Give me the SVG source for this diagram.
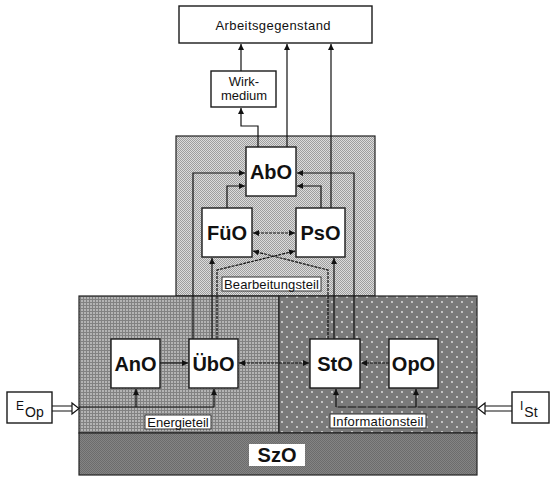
<svg xmlns="http://www.w3.org/2000/svg" width="551" height="477" viewBox="0 0 551 477">
<defs>
<style>
.box{fill:#fff;stroke:#1a1a1a;stroke-width:1.4}
.lbl{font-family:"Liberation Sans",Arial,sans-serif;font-weight:bold;font-size:20px;fill:#111;text-anchor:middle}
.txt{font-family:"Liberation Sans",Arial,sans-serif;font-size:13px;fill:#111;text-anchor:middle}
.tag{fill:#fff;stroke:#333;stroke-width:1}
.ln{fill:none;stroke:#111;stroke-width:1.2}
.dl{fill:none;stroke:#111;stroke-width:1.2;stroke-dasharray:3 1}
.panel{stroke:#222;stroke-width:1.2}
</style>
<pattern id="pB" width="2" height="2" patternUnits="userSpaceOnUse">
<rect width="2" height="2" fill="#dcdcdc"/>
<rect width="1" height="1" fill="#9e9e9e"/>
<rect x="1" y="1" width="1" height="1" fill="#9e9e9e"/>
</pattern>
<pattern id="pE" width="3" height="3" patternUnits="userSpaceOnUse">
<rect width="3" height="3" fill="#828282"/>
<rect width="2" height="2" fill="#b4b4b4"/>
</pattern>
<pattern id="pI" width="10" height="10" patternUnits="userSpaceOnUse">
<rect width="10" height="10" fill="#7a7a7a"/>
<circle cx="2" cy="2" r="0.9" fill="#e6e6e6"/>
<circle cx="7" cy="7" r="0.9" fill="#e6e6e6"/>
</pattern>
<pattern id="pS" width="2" height="2" patternUnits="userSpaceOnUse">
<rect width="2" height="2" fill="#848484"/>
<rect width="1" height="1" fill="#6c6c6c"/>
<rect x="1" y="1" width="1" height="1" fill="#6c6c6c"/>
</pattern>
<marker id="ar" viewBox="0 0 8 8" refX="8" refY="4" markerWidth="6" markerHeight="6" markerUnits="userSpaceOnUse" orient="auto-start-reverse">
<path d="M0,0 L8,4 L0,8 z" fill="#111"/>
</marker>
</defs>
<rect width="551" height="477" fill="#fff"/>

<g id="bearbeitungsteil">
<rect class="panel" x="176" y="136" width="199" height="160" fill="url(#pB)"/>
</g>
<g id="energieteil">
<rect class="panel" x="79" y="296" width="200" height="137" fill="url(#pE)"/>
</g>
<g id="informationsteil">
<rect class="panel" x="279" y="296" width="198" height="137" fill="url(#pI)"/>
</g>
<g id="SzO">
<rect class="panel" x="79" y="433" width="398" height="42" fill="url(#pS)"/>
<rect x="249" y="444" width="56" height="22" fill="#fff"/>
<text class="lbl" x="277" y="462">SzO</text>
</g>

<g id="connectors">
<line class="ln" x1="241" y1="71" x2="241" y2="44" marker-end="url(#ar)"/>
<path class="ln" d="M258,147 V126 H241 V108" marker-end="url(#ar)"/>
<line class="ln" x1="287" y1="147" x2="287" y2="44" marker-end="url(#ar)"/>
<line class="ln" x1="331" y1="208" x2="331" y2="44" marker-end="url(#ar)"/>
<path class="ln" d="M193,339 V173 H245" marker-end="url(#ar)"/>
<path class="ln" d="M227,208 V186 H245" marker-end="url(#ar)"/>
<path class="ln" d="M354,339 V173 H297" marker-end="url(#ar)"/>
<path class="ln" d="M321,208 V186 H297" marker-end="url(#ar)"/>
<line class="dl" x1="253" y1="233" x2="295" y2="233" marker-start="url(#ar)" marker-end="url(#ar)"/>
<line class="ln" x1="212" y1="339" x2="212" y2="258" marker-end="url(#ar)"/>
<path class="dl" d="M217,339 V270 L295,251" marker-end="url(#ar)"/>
<line class="ln" x1="334" y1="339" x2="334" y2="258" marker-end="url(#ar)"/>
<path class="dl" d="M328,339 V270 L253,251" marker-end="url(#ar)"/>
<line class="ln" x1="160" y1="363" x2="188" y2="363" marker-end="url(#ar)"/>
<line class="dl" x1="239" y1="363" x2="309" y2="363" marker-start="url(#ar)" marker-end="url(#ar)"/>
<line class="dl" x1="389" y1="363" x2="361" y2="363" marker-end="url(#ar)"/>
<line class="ln" x1="79" y1="407" x2="214" y2="407"/>
<line class="ln" x1="136" y1="407" x2="136" y2="389" marker-end="url(#ar)"/>
<line class="ln" x1="214" y1="407" x2="214" y2="389" marker-end="url(#ar)"/>
<line class="ln" x1="477" y1="407" x2="336" y2="407"/>
<line class="ln" x1="336" y1="407" x2="336" y2="389" marker-end="url(#ar)"/>
<line class="ln" x1="416" y1="407" x2="416" y2="389" marker-end="url(#ar)"/>
<path class="ln" d="M52,406 H72 M52,411 H72"/>
<polygon points="72,403 79,408.5 72,414" fill="#fff" stroke="#111" stroke-width="1.2"/>
<path class="ln" d="M512,406 H485 M512,411 H485"/>
<polygon points="485,403 478,408.5 485,414" fill="#fff" stroke="#111" stroke-width="1.2"/>
</g>

<g id="arbeitsgegenstand">
<rect class="box" x="179" y="6" width="193" height="37"/>
<text class="txt" x="273" y="30" font-size="13.5" textLength="115">Arbeitsgegenstand</text>
</g>
<g id="wirkmedium">
<rect class="box" x="211" y="71" width="65" height="36"/>
<text class="txt" x="244" y="86" font-size="12">Wirk-</text>
<text class="txt" x="244" y="100" font-size="12">medium</text>
</g>
<g id="AbO">
<rect class="box" x="246" y="147" width="50" height="49"/>
<text class="lbl" x="271" y="178.5">AbO</text>
</g>
<g id="FueO">
<rect class="box" x="202" y="208" width="50" height="49"/>
<text class="lbl" x="227" y="239.5">FüO</text>
</g>
<g id="PsO">
<rect class="box" x="296" y="208" width="49" height="49"/>
<text class="lbl" x="320.5" y="239.5">PsO</text>
</g>
<g id="AnO">
<rect class="box" x="111" y="339" width="49" height="49"/>
<text class="lbl" x="135.5" y="370.5">AnO</text>
</g>
<g id="UebO">
<rect class="box" x="189" y="339" width="49" height="49"/>
<text class="lbl" x="213.5" y="370.5">ÜbO</text>
</g>
<g id="StO">
<rect class="box" x="310" y="339" width="50" height="49"/>
<text class="lbl" x="335" y="370.5">StO</text>
</g>
<g id="OpO">
<rect class="box" x="389" y="339" width="49" height="49"/>
<text class="lbl" x="413.5" y="370.5">OpO</text>
</g>
<g id="label-bearbeitungsteil">
<rect class="tag" x="222" y="277" width="99" height="14"/>
<text class="txt" x="271.5" y="288.5" textLength="95">Bearbeitungsteil</text>
</g>
<g id="label-energieteil">
<rect class="tag" x="145" y="415" width="66" height="14"/>
<text class="txt" x="178" y="426.5">Energieteil</text>
</g>
<g id="label-informationsteil">
<rect class="tag" x="330" y="414" width="96" height="14"/>
<text class="txt" x="378" y="425.5" textLength="91">Informationsteil</text>
</g>
<g id="EOp">
<rect class="box" x="7" y="392" width="45" height="31"/>
<text font-family="Liberation Sans,Arial,sans-serif" font-size="12" fill="#111" x="16" y="410">E<tspan font-size="14" dx="1" dy="7">Op</tspan></text>
</g>
<g id="ISt">
<rect class="box" x="512" y="392" width="37" height="31"/>
<text font-family="Liberation Sans,Arial,sans-serif" font-size="12" fill="#111" x="520" y="410">I<tspan font-size="14" dx="1" dy="7">St</tspan></text>
</g>
</svg>
